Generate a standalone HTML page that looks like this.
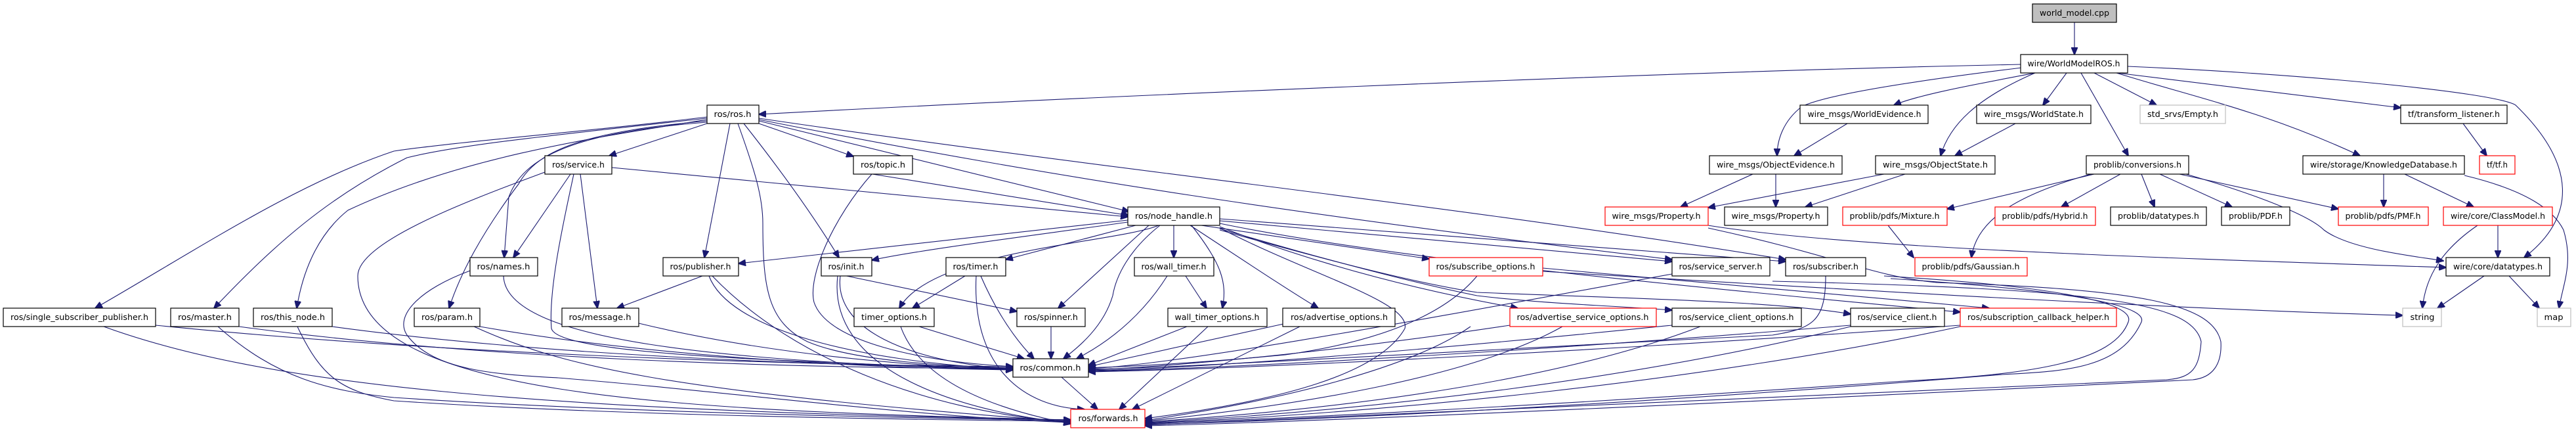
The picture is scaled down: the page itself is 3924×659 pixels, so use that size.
<!DOCTYPE html>
<html><head><meta charset="utf-8"><style>
html,body{margin:0;padding:0;background:#fff;}
svg{display:block;}
text{font-family:"DejaVu Sans","Liberation Sans",sans-serif;font-size:12.5px;fill:#000;text-anchor:middle;}
.n{fill:#fff;stroke:#000;stroke-width:1.2;}
.r{fill:#fff;stroke:#ff0000;stroke-width:1.2;}
.g{fill:#fff;stroke:#bfbfbf;stroke-width:1.2;}
.e path{fill:none;stroke:#191970;stroke-width:1.1;marker-end:url(#a);}
</style></head><body>
<svg width="3924" height="659" viewBox="0 0 3924 659" xmlns="http://www.w3.org/2000/svg">
<defs><marker id="a" markerUnits="userSpaceOnUse" markerWidth="12" markerHeight="10" refX="11" refY="5" orient="auto"><path d="M0,0 L12,5 L0,10 Z" fill="#191970" stroke="#191970"/></marker></defs>
<g class="e">
<path d="M3160,34 L3160,83"/>
<path d="M3078,98 C2500,110 1600,150 1156,174"/>
<path d="M3100,111 C3000,130 2920,145 2885,160"/>
<path d="M3080,103 C2900,125 2780,145 2745,162 C2715,185 2707,215 2707,237"/>
<path d="M3148,111 L3112,160"/>
<path d="M3100,111 C3010,150 2970,190 2956,237"/>
<path d="M3190,111 L3285,160"/>
<path d="M3170,111 L3242,237"/>
<path d="M3224,111 C3350,150 3450,170 3595,237"/>
<path d="M3225,111 L3657,164"/>
<path d="M3241,101 C3500,112 3800,140 3832,160 C3925,250 3925,330 3845,392"/>
<path d="M2814,188 L2733,237"/>
<path d="M3070,188 L2978,237"/>
<path d="M2670,265 L2560,315"/>
<path d="M2705,265 L2705,315"/>
<path d="M2870,265 L2602,316"/>
<path d="M2902,265 L2750,315"/>
<path d="M2602,343 C2800,375 3200,390 3726,407"/>
<path d="M3190,265 L2966,318"/>
<path d="M3185,265 C3060,300 3010,340 3003,392"/>
<path d="M3230,265 L3140,315"/>
<path d="M3262,265 L3282,315"/>
<path d="M3290,265 L3400,315"/>
<path d="M3320,265 L3562,318"/>
<path d="M3330,265 C3450,300 3520,330 3540,350 C3580,380 3680,390 3722,397"/>
<path d="M3631,265 L3631,315"/>
<path d="M3663,265 L3768,315"/>
<path d="M3754,267 C3850,290 3890,320 3905,350 C3920,400 3905,430 3898,469"/>
<path d="M3752,188 L3788,237"/>
<path d="M3805,343 L3805,392"/>
<path d="M3774,343 C3720,380 3695,420 3690,469"/>
<path d="M3784,420 L3713,469"/>
<path d="M3822,420 L3868,469"/>
<path d="M2876,343 L2915,392"/>
<path d="M1077,178 C900,200 700,215 600,230 C450,280 300,380 145,469"/>
<path d="M1077,180 C850,205 700,220 620,240 C500,300 420,370 326,469"/>
<path d="M1077,182 C900,210 700,240 530,320 C480,360 460,420 452,469"/>
<path d="M1077,184 C900,200 820,225 790,280 C730,360 700,420 684,469"/>
<path d="M1077,186 C900,200 800,230 775,300 L768,392"/>
<path d="M1077,188 L928,237"/>
<path d="M1112,188 L1073,392"/>
<path d="M1124,188 C1150,260 1162,300 1162,340 C1162,440 1170,490 1230,520 C1300,550 1450,558 1543,560"/>
<path d="M1133,188 C1190,260 1240,330 1278,392"/>
<path d="M1156,188 L1300,238"/>
<path d="M1156,184 L1720,322"/>
<path d="M1156,182 C1600,270 2000,330 2547,395"/>
<path d="M1156,180 C1700,260 2200,310 2720,395"/>
<path d="M932,255 L1718,330"/>
<path d="M869,265 L782,392"/>
<path d="M874,265 C860,330 835,440 840,500 C850,540 1200,550 1543,562"/>
<path d="M884,265 L910,469"/>
<path d="M830,262 C700,310 545,370 545,420 C545,600 1000,625 1631,639"/>
<path d="M1329,265 L1720,328"/>
<path d="M1328,265 C1270,330 1230,420 1240,460 C1260,520 1400,550 1543,558"/>
<path d="M1718,335 L1125,401"/>
<path d="M1718,338 C1600,355 1400,380 1328,396"/>
<path d="M1730,343 L1532,395"/>
<path d="M1765,343 C1700,370 1420,380 1370,469"/>
<path d="M1788,343 L1788,392"/>
<path d="M1750,343 L1612,469"/>
<path d="M1767,343 C1720,380 1700,420 1695,450 C1680,500 1640,530 1620,546"/>
<path d="M1815,343 C1860,400 1870,430 1862,469"/>
<path d="M1813,343 C1900,400 1960,440 2008,469"/>
<path d="M1830,343 L2177,394"/>
<path d="M1858,336 L2547,398"/>
<path d="M1858,333 L2720,398"/>
<path d="M1858,345 C2000,400 2150,440 2312,469"/>
<path d="M1858,348 C2000,390 2150,430 2250,450 C2350,462 2450,465 2547,472"/>
<path d="M1858,350 C2000,390 2150,430 2250,445 C2500,455 2700,458 2819,478"/>
<path d="M1858,340 C2100,390 2500,430 2986,475"/>
<path d="M1858,347 C2000,420 2150,460 2140,500 C2100,570 1950,610 1744,637"/>
<path d="M2350,413 C2800,440 3300,470 3660,480"/>
<path d="M2350,408 L3030,469"/>
<path d="M2250,420 C2200,480 2100,520 1958,540 C1800,555 1700,558 1658,560"/>
<path d="M1070,420 L940,469"/>
<path d="M1280,418 L1549,474"/>
<path d="M1470,420 L1390,469"/>
<path d="M1806,420 L1838,469"/>
<path d="M237,495 C630,535 1150,555 1543,558"/>
<path d="M364,497 C720,545 1180,560 1543,561"/>
<path d="M506,497 C820,540 1230,556 1543,560"/>
<path d="M731,497 C975,540 1300,560 1543,563"/>
<path d="M767,420 C770,520 1100,550 1543,563"/>
<path d="M973,492 C1150,535 1350,555 1543,563"/>
<path d="M1080,420 C1110,500 1300,550 1543,562"/>
<path d="M1280,420 C1270,500 1380,550 1543,562"/>
<path d="M1494,420 C1520,480 1550,520 1575,546"/>
<path d="M1400,497 L1560,546"/>
<path d="M1601,497 L1601,546"/>
<path d="M1778,420 C1740,480 1690,520 1640,546"/>
<path d="M1808,497 L1658,556"/>
<path d="M1955,493 L1658,558"/>
<path d="M2547,417 C2200,480 1800,555 1658,561"/>
<path d="M2781,420 C2781,490 2760,500 2700,510 C2300,530 1800,560 1658,562"/>
<path d="M2300,495 C2100,525 1850,555 1658,563"/>
<path d="M2547,495 C2200,530 1850,560 1658,564"/>
<path d="M2819,495 C2400,530 1900,560 1658,565"/>
<path d="M2986,495 C2500,530 1950,560 1658,566"/>
<path d="M158,497 C400,585 800,625 1631,639"/>
<path d="M332,497 C420,575 500,595 600,605 C900,625 1300,635 1631,640"/>
<path d="M453,497 C490,575 520,595 600,610 C900,630 1300,638 1631,641"/>
<path d="M722,497 C850,555 1000,595 1631,642"/>
<path d="M716,412 C640,440 600,480 620,510 C660,565 760,570 850,575 C1100,595 1400,635 1631,643"/>
<path d="M1085,420 C1200,540 1400,625 1631,643"/>
<path d="M1276,420 C1260,560 1450,625 1631,644"/>
<path d="M1487,420 C1480,560 1560,620 1652,623"/>
<path d="M1372,497 C1400,575 1500,620 1631,645"/>
<path d="M1617,574 L1672,623"/>
<path d="M1840,497 L1705,623"/>
<path d="M1980,497 L1725,623"/>
<path d="M2240,497 C2150,560 1950,610 1744,640"/>
<path d="M2380,497 C2250,570 2000,615 1744,641"/>
<path d="M2590,497 C2400,570 2100,620 1744,642"/>
<path d="M2819,497 C2500,575 2100,625 1744,643"/>
<path d="M2986,497 C2600,580 2100,630 1744,644"/>
<path d="M2870,420 C3200,440 3250,470 3242,490 C3220,550 3100,570 2900,580 C2400,615 2000,635 1744,645"/>
<path d="M2880,424 C3200,445 3270,470 3262,490 C3230,560 3150,565 3050,570 C2500,615 2000,640 1744,646"/>
<path d="M2700,428 C3200,440 3340,460 3353,520 C3350,560 3340,575 3300,578 C2600,610 2000,640 1744,647"/>
<path d="M2602,347 C2800,390 2850,420 2950,430 C3250,440 3370,460 3383,520 C3385,555 3370,575 3340,578 C2600,615 2000,642 1744,648"/>
</g>
<g>
<rect class="n" x="3096" y="6" width="128" height="28" style="fill:#bfbfbf"/><text x="3160" y="24" textLength="106" lengthAdjust="spacingAndGlyphs">world_model.cpp</text>
<rect class="n" x="3078" y="83" width="163" height="28"/><text x="3159" y="101" textLength="141" lengthAdjust="spacingAndGlyphs">wire/WorldModelROS.h</text>
<rect class="n" x="1077" y="160" width="79" height="28"/><text x="1116" y="178" textLength="57" lengthAdjust="spacingAndGlyphs">ros/ros.h</text>
<rect class="n" x="2742" y="160" width="195" height="28"/><text x="2840" y="178" textLength="173" lengthAdjust="spacingAndGlyphs">wire_msgs/WorldEvidence.h</text>
<rect class="n" x="3011" y="160" width="174" height="28"/><text x="3098" y="178" textLength="152" lengthAdjust="spacingAndGlyphs">wire_msgs/WorldState.h</text>
<rect class="g" x="3260" y="160" width="130" height="28"/><text x="3325" y="178" textLength="108" lengthAdjust="spacingAndGlyphs">std_srvs/Empty.h</text>
<rect class="n" x="3657" y="160" width="162" height="28"/><text x="3738" y="178" textLength="140" lengthAdjust="spacingAndGlyphs">tf/transform_listener.h</text>
<rect class="n" x="830" y="237" width="102" height="28"/><text x="881" y="255" textLength="80" lengthAdjust="spacingAndGlyphs">ros/service.h</text>
<rect class="n" x="1300" y="237" width="90" height="28"/><text x="1345" y="255" textLength="68" lengthAdjust="spacingAndGlyphs">ros/topic.h</text>
<rect class="n" x="2604" y="237" width="202" height="28"/><text x="2705" y="255" textLength="180" lengthAdjust="spacingAndGlyphs">wire_msgs/ObjectEvidence.h</text>
<rect class="n" x="2857" y="237" width="182" height="28"/><text x="2948" y="255" textLength="160" lengthAdjust="spacingAndGlyphs">wire_msgs/ObjectState.h</text>
<rect class="n" x="3178" y="237" width="156" height="28"/><text x="3256" y="255" textLength="134" lengthAdjust="spacingAndGlyphs">problib/conversions.h</text>
<rect class="n" x="3508" y="237" width="246" height="28"/><text x="3631" y="255" textLength="224" lengthAdjust="spacingAndGlyphs">wire/storage/KnowledgeDatabase.h</text>
<rect class="r" x="3777" y="237" width="54" height="28"/><text x="3804" y="255" textLength="32" lengthAdjust="spacingAndGlyphs">tf/tf.h</text>
<rect class="n" x="1718" y="315" width="140" height="28"/><text x="1788" y="333" textLength="118" lengthAdjust="spacingAndGlyphs">ros/node_handle.h</text>
<rect class="r" x="2445" y="315" width="157" height="28"/><text x="2523" y="333" textLength="135" lengthAdjust="spacingAndGlyphs">wire_msgs/Property.h</text>
<rect class="n" x="2627" y="315" width="157" height="28"/><text x="2705" y="333" textLength="135" lengthAdjust="spacingAndGlyphs">wire_msgs/Property.h</text>
<rect class="r" x="2807" y="315" width="159" height="28"/><text x="2886" y="333" textLength="137" lengthAdjust="spacingAndGlyphs">problib/pdfs/Mixture.h</text>
<rect class="r" x="3039" y="315" width="153" height="28"/><text x="3115" y="333" textLength="131" lengthAdjust="spacingAndGlyphs">problib/pdfs/Hybrid.h</text>
<rect class="n" x="3215" y="315" width="146" height="28"/><text x="3288" y="333" textLength="124" lengthAdjust="spacingAndGlyphs">problib/datatypes.h</text>
<rect class="n" x="3384" y="315" width="104" height="28"/><text x="3436" y="333" textLength="82" lengthAdjust="spacingAndGlyphs">problib/PDF.h</text>
<rect class="r" x="3562" y="315" width="137" height="28"/><text x="3630" y="333" textLength="115" lengthAdjust="spacingAndGlyphs">problib/pdfs/PMF.h</text>
<rect class="r" x="3722" y="315" width="166" height="28"/><text x="3805" y="333" textLength="144" lengthAdjust="spacingAndGlyphs">wire/core/ClassModel.h</text>
<rect class="n" x="716" y="392" width="103" height="28"/><text x="767" y="410" textLength="81" lengthAdjust="spacingAndGlyphs">ros/names.h</text>
<rect class="n" x="1010" y="392" width="115" height="28"/><text x="1067" y="410" textLength="93" lengthAdjust="spacingAndGlyphs">ros/publisher.h</text>
<rect class="n" x="1251" y="392" width="77" height="28"/><text x="1289" y="410" textLength="55" lengthAdjust="spacingAndGlyphs">ros/init.h</text>
<rect class="n" x="1441" y="392" width="91" height="28"/><text x="1486" y="410" textLength="69" lengthAdjust="spacingAndGlyphs">ros/timer.h</text>
<rect class="n" x="1728" y="392" width="121" height="28"/><text x="1788" y="410" textLength="99" lengthAdjust="spacingAndGlyphs">ros/wall_timer.h</text>
<rect class="r" x="2177" y="392" width="173" height="28"/><text x="2263" y="410" textLength="151" lengthAdjust="spacingAndGlyphs">ros/subscribe_options.h</text>
<rect class="n" x="2547" y="392" width="149" height="28"/><text x="2621" y="410" textLength="127" lengthAdjust="spacingAndGlyphs">ros/service_server.h</text>
<rect class="n" x="2720" y="392" width="122" height="28"/><text x="2781" y="410" textLength="100" lengthAdjust="spacingAndGlyphs">ros/subscriber.h</text>
<rect class="r" x="2917" y="392" width="171" height="28"/><text x="3002" y="410" textLength="149" lengthAdjust="spacingAndGlyphs">problib/pdfs/Gaussian.h</text>
<rect class="n" x="3726" y="392" width="158" height="28"/><text x="3805" y="410" textLength="136" lengthAdjust="spacingAndGlyphs">wire/core/datatypes.h</text>
<rect class="n" x="5" y="469" width="232" height="28"/><text x="121" y="487" textLength="210" lengthAdjust="spacingAndGlyphs">ros/single_subscriber_publisher.h</text>
<rect class="n" x="260" y="469" width="104" height="28"/><text x="312" y="487" textLength="82" lengthAdjust="spacingAndGlyphs">ros/master.h</text>
<rect class="n" x="386" y="469" width="120" height="28"/><text x="446" y="487" textLength="98" lengthAdjust="spacingAndGlyphs">ros/this_node.h</text>
<rect class="n" x="631" y="469" width="100" height="28"/><text x="681" y="487" textLength="78" lengthAdjust="spacingAndGlyphs">ros/param.h</text>
<rect class="n" x="856" y="469" width="117" height="28"/><text x="914" y="487" textLength="95" lengthAdjust="spacingAndGlyphs">ros/message.h</text>
<rect class="n" x="1301" y="469" width="122" height="28"/><text x="1362" y="487" textLength="100" lengthAdjust="spacingAndGlyphs">timer_options.h</text>
<rect class="n" x="1549" y="469" width="104" height="28"/><text x="1601" y="487" textLength="82" lengthAdjust="spacingAndGlyphs">ros/spinner.h</text>
<rect class="n" x="1779" y="469" width="151" height="28"/><text x="1854" y="487" textLength="129" lengthAdjust="spacingAndGlyphs">wall_timer_options.h</text>
<rect class="n" x="1954" y="469" width="171" height="28"/><text x="2040" y="487" textLength="148" lengthAdjust="spacingAndGlyphs">ros/advertise_options.h</text>
<rect class="r" x="2300" y="469" width="223" height="28"/><text x="2411" y="487" textLength="201" lengthAdjust="spacingAndGlyphs">ros/advertise_service_options.h</text>
<rect class="n" x="2547" y="469" width="197" height="28"/><text x="2645" y="487" textLength="175" lengthAdjust="spacingAndGlyphs">ros/service_client_options.h</text>
<rect class="n" x="2819" y="469" width="143" height="28"/><text x="2890" y="487" textLength="121" lengthAdjust="spacingAndGlyphs">ros/service_client.h</text>
<rect class="r" x="2986" y="469" width="238" height="28"/><text x="3105" y="487" textLength="216" lengthAdjust="spacingAndGlyphs">ros/subscription_callback_helper.h</text>
<rect class="g" x="3660" y="469" width="59" height="28"/><text x="3690" y="487" textLength="37" lengthAdjust="spacingAndGlyphs">string</text>
<rect class="g" x="3865" y="469" width="51" height="28"/><text x="3890" y="487" textLength="29" lengthAdjust="spacingAndGlyphs">map</text>
<rect class="n" x="1543" y="546" width="115" height="28"/><text x="1600" y="564" textLength="93" lengthAdjust="spacingAndGlyphs">ros/common.h</text>
<rect class="r" x="1631" y="623" width="113" height="28"/><text x="1688" y="641" textLength="91" lengthAdjust="spacingAndGlyphs">ros/forwards.h</text>
</g>
</svg>
</body></html>
